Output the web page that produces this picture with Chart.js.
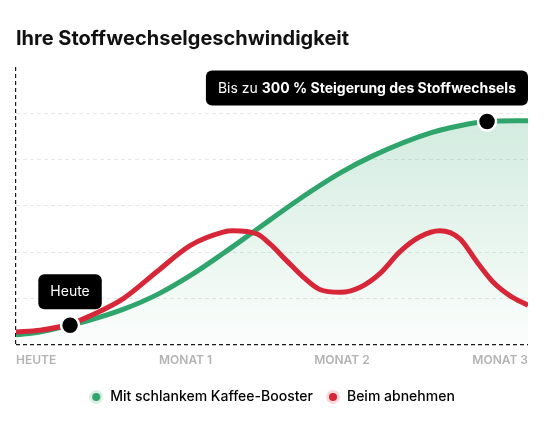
<!DOCTYPE html>
<html lang="de">
<head>
<meta charset="utf-8">
<title>Ihre Stoffwechselgeschwindigkeit</title>
<script src="https://cdn.jsdelivr.net/npm/chart.js@4.4.1/dist/chart.umd.min.js"></script>
<style>
  html, body { margin: 0; padding: 0; background: #fff; }
  #wrap { position: relative; width: 544px; height: 422px; }
</style>
</head>
<body>
<div id="wrap"><canvas id="stoffwechsel"></canvas></div>
<script>
// Tage seit Start (x) und relative Stoffwechselrate (y)
const boosterDays = [0, 4.2, 9.5, 13.0, 18.8, 24.8, 30.6, 36.4, 41.1, 44.6, 49.4, 57.0, 62.9, 73.0, 78.0, 82.8, 90];
const boosterValues = [0.21, 0.27, 0.42, 0.53, 0.76, 1.08, 1.49, 1.97, 2.38, 2.69, 3.11, 3.71, 4.09, 4.58, 4.73, 4.82, 4.84];

const dietDays = [0, 4.2, 9.5, 13.0, 18.8, 24.8, 30.6, 36.4, 38.1, 42.4, 44.6, 47.6, 50.4, 53.4, 57.0, 60.5, 64.0, 67.5, 71.0, 74.5, 78.0, 81.0, 83.8, 86.8, 90];
const dietValues = [0.27, 0.31, 0.44, 0.62, 0.99, 1.58, 2.14, 2.43, 2.46, 2.39, 2.18, 1.81, 1.47, 1.19, 1.13, 1.24, 1.54, 2.01, 2.33, 2.46, 2.29, 1.79, 1.36, 1.06, 0.85];

const tickDays = [0, 29.8, 57.3, 90];
const tickLabels = ['HEUTE', 'MONAT 1', 'MONAT 2', 'MONAT 3'];

const seriesNames = ['Mit schlankem Kaffee-Booster', 'Beim abnehmen'];

// markierte Punkte auf der Booster-Kurve + Text der Hinweisboxen
const markerIndex = [2, 15];
const markerTexts = [
  [['Heute', 400]],
  [['Bis zu ', 400], ['300 % Steigerung des Stoffwechsels', 700]],
];

const GREEN = '#2fa56c';
const RED = '#d72638';

Chart.defaults.font.family = 'Inter';

function haloDot(color, halo) {
  const c = document.createElement('canvas');
  c.width = 14;
  c.height = 14;
  const g = c.getContext('2d');
  g.fillStyle = halo;
  g.beginPath(); g.arc(7, 7, 7, 0, Math.PI * 2); g.fill();
  g.fillStyle = color;
  g.beginPath(); g.arc(7, 7, 4, 0, Math.PI * 2); g.fill();
  return c;
}
const legendDots = [haloDot(GREEN, '#dcefe4'), haloDot(RED, '#f8d9dc')];

const calloutPlugin = {
  id: 'callouts',
  afterDatasetsDraw(chart) {
    const { ctx, chartArea } = chart;
    const meta = chart.getDatasetMeta(2);
    meta.data.forEach((pt, i) => {
      const parts = markerTexts[i];
      ctx.save();
      let w = 0;
      parts.forEach(([t, wt]) => {
        ctx.font = wt + ' 14px Inter';
        w += ctx.measureText(t).width;
      });
      const bw = w + 24, bh = 35;
      let bx = Math.min(pt.x - bw / 2, chartArea.right - bw);
      bx = Math.max(bx, chartArea.left);
      const by = pt.y - 16 - bh;
      ctx.fillStyle = '#000';
      ctx.beginPath();
      ctx.roundRect(bx, by, bw, bh, 6);
      ctx.fill();
      ctx.fillStyle = '#fff';
      ctx.textBaseline = 'middle';
      let tx = bx + 12;
      parts.forEach(([t, wt]) => {
        ctx.font = wt + ' 14px Inter';
        ctx.fillText(t, tx, by + bh / 2 + 0.5);
        tx += ctx.measureText(t).width;
      });
      ctx.restore();
    });
  }
};

new Chart(document.getElementById('stoffwechsel'), {
  type: 'line',
  data: {
    datasets: [
      {
        label: seriesNames[0],
        data: boosterDays.map((d, i) => ({ x: d, y: boosterValues[i] })),
        borderColor: GREEN,
        borderWidth: 5,
        pointRadius: 0,
        cubicInterpolationMode: 'monotone',
        fill: 'origin',
        backgroundColor: (c) => {
          const a = c.chart.chartArea;
          if (!a) return 'rgba(47,165,108,0.15)';
          const g = c.chart.ctx.createLinearGradient(0, a.top, 0, a.bottom);
          g.addColorStop(0, 'rgba(47,165,108,0.26)');
          g.addColorStop(1, 'rgba(47,165,108,0.02)');
          return g;
        },
        order: 2,
      },
      {
        label: seriesNames[1],
        data: dietDays.map((d, i) => ({ x: d, y: dietValues[i] })),
        borderColor: RED,
        borderWidth: 5,
        pointRadius: 0,
        cubicInterpolationMode: 'monotone',
        fill: false,
        order: 1,
      },
      {
        label: 'Markierung',
        data: markerIndex.map(i => ({ x: boosterDays[i], y: boosterValues[i] })),
        showLine: false,
        pointRadius: 9,
        pointBackgroundColor: '#000',
        pointBorderColor: '#fff',
        pointBorderWidth: 2.5,
        order: 0,
      },
    ],
  },
  options: {
    responsive: true,
    maintainAspectRatio: false,
    animation: false,
    events: [],
    layout: { padding: { left: 16, right: 16, bottom: 8 } },
    scales: {
      x: {
        type: 'linear',
        min: 0,
        max: 90,
        afterBuildTicks: (axis) => { axis.ticks = tickDays.map(v => ({ value: v })); },
        ticks: {
          callback: (v, i) => tickLabels[i],
          align: 'inner',
          autoSkip: false,
          maxRotation: 0,
          padding: 9,
          color: '#b3b3b3',
          font: { size: 12, weight: 600 },
        },
        grid: {
          drawTicks: false,
          color: (c) => (c.tick && c.tick.value === 0 ? '#1a1a1a' : 'transparent'),
          lineWidth: 1.2,
        },
        border: { display: false, dash: [4, 3] },
      },
      y: {
        min: 0,
        max: 6,
        ticks: { display: false, stepSize: 1 },
        grid: {
          drawTicks: false,
          color: (c) => {
            if (!c.tick) return 'transparent';
            if (c.tick.value === 0) return '#1a1a1a';
            if (c.tick.value === 6) return 'transparent';
            return '#e8e8e8';
          },
          lineWidth: (c) => (c.tick && c.tick.value === 0 ? 1.2 : 1),
        },
        border: { display: false, dash: [4, 3] },
      },
    },
    plugins: {
      title: {
        display: true,
        text: 'Ihre Stoffwechselgeschwindigkeit',
        align: 'start',
        color: '#111',
        font: { size: 20, weight: 700 },
        padding: { top: 27, bottom: 16 },
      },
      legend: {
        position: 'bottom',
        labels: {
          usePointStyle: true,
          boxWidth: 14,
          boxHeight: 14,
          padding: 13,
          color: '#151515',
          font: { size: 14, weight: 500 },
          generateLabels: () => seriesNames.map((n, i) => ({
            text: n,
            pointStyle: legendDots[i],
            fillStyle: 'transparent',
            strokeStyle: 'transparent',
            lineWidth: 0,
            hidden: false,
            datasetIndex: i,
          })),
        },
      },
      tooltip: { enabled: false },
    },
  },
  plugins: [calloutPlugin],
});
</script>
</body>
</html>
